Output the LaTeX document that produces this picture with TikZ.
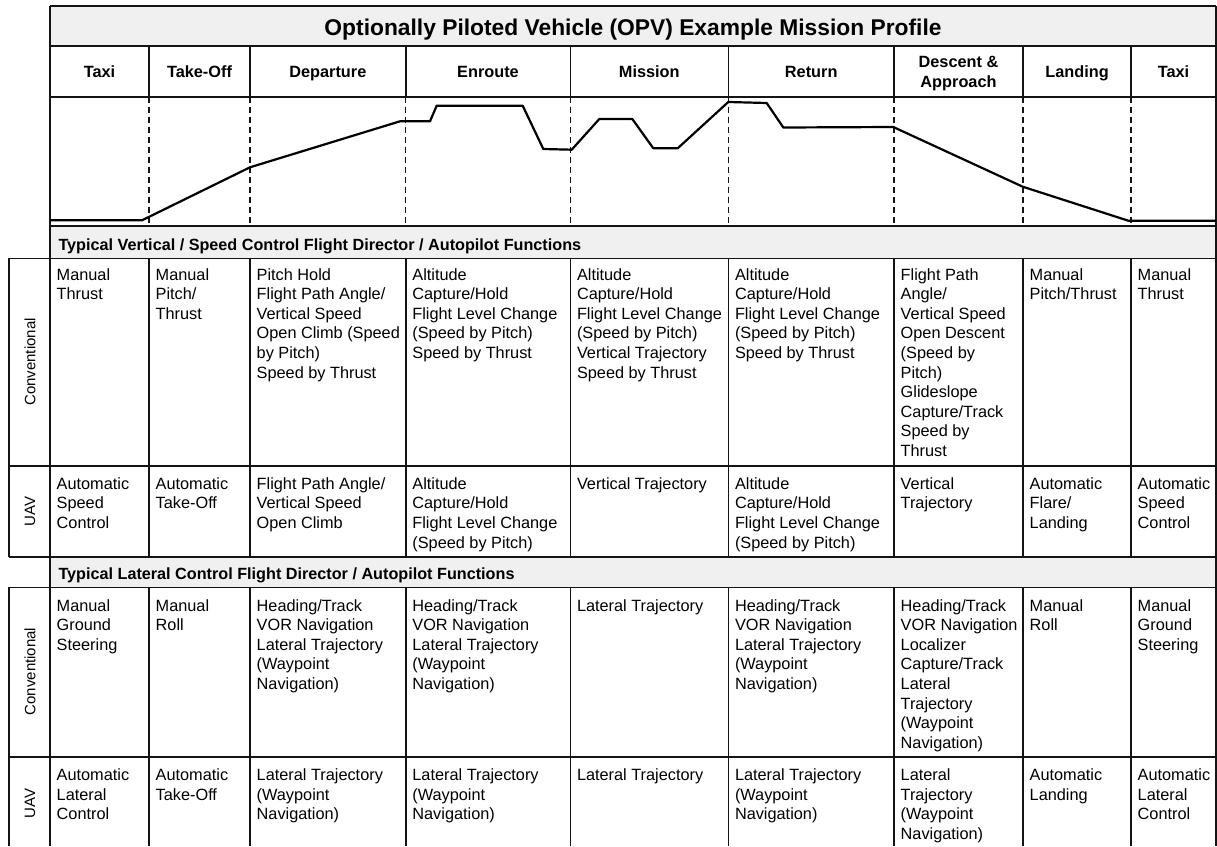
\documentclass[tikz,border=0pt]{standalone}
\usepackage{fontspec}
\setmainfont{Liberation Sans}
\definecolor{bandgray}{RGB}{240,240,240}
\definecolor{ink}{RGB}{20,20,20}
% stacked lines whose reference point is the baseline of the first line
\newcommand\stackl[1]{\vtop{\let\\\cr\halign{##\hfil\cr#1\crcr}}}
\newcommand\stackc[1]{\vtop{\let\\\cr\halign{\hfil##\hfil\cr#1\crcr}}}
\begin{document}
\begin{tikzpicture}[x=1pt,y=-1pt,
  gridline/.style={draw=ink,line width=1.6pt},
  dashline/.style={draw=ink,line width=1.3pt,dash pattern=on 6pt off 4pt},
  profile/.style={draw=black,line width=2.2pt,line join=round},
  band/.style={fill=bandgray},
  titletext/.style={anchor=base,inner sep=0pt,font=\fontsize{22.8}{26}\selectfont\bfseries},
  headcell/.style={anchor=base,inner sep=0pt,font=\fontsize{16.3}{19.6}\selectfont\bfseries},
  sechead/.style={anchor=base west,inner sep=0pt,font=\fontsize{16.2}{19}\selectfont\bfseries},
  cell/.style={anchor=base west,inner sep=0pt,font=\fontsize{16.3}{19.6}\selectfont},
  rowlab/.style={anchor=center,inner sep=0pt,rotate=90,font=\fontsize{15}{18}\selectfont}]
\useasboundingbox (0,0) rectangle (1217,846);

% grey bands: title and the two function headings
\path[band] (50,6) rectangle (1215.8,45.7);
\path[band] (50,225.7) rectangle (1215.8,258.3);
\path[band] (50,557) rectangle (1215.8,587.3);

% horizontal rules
\draw[gridline] (50,6) -- (1215.8,6);
\draw[gridline] (50,45.7) -- (1215.8,45.7);
\draw[gridline] (50,96.7) -- (1215.8,96.7);
\draw[gridline] (50,225.7) -- (1215.8,225.7);
\draw[gridline] (9,258.3) -- (1215.8,258.3);
\draw[gridline] (9,465.7) -- (1215.8,465.7);
\draw[gridline] (9,557) -- (1215.8,557);
\draw[gridline] (9,587.3) -- (1215.8,587.3);
\draw[gridline] (9,756.7) -- (1215.8,756.7);

% outer verticals
\draw[gridline] (50,6) -- (50,846);
\draw[gridline] (1215.8,6) -- (1215.8,846);
\draw[gridline] (9,258.3) -- (9,557);
\draw[gridline] (9,587.3) -- (9,846);

% phase column dividers: solid in the header, dashed in the profile, solid in the tables
\foreach \cx in {149,250,405.7,570.3,728.3,894,1023,1131} {
  \draw[gridline] (\cx,45.7) -- (\cx,96.7);
  \draw[dashline] (\cx,96.7) -- (\cx,225.7);
  \draw[gridline] (\cx,258.3) -- (\cx,557);
  \draw[gridline] (\cx,587.3) -- (\cx,846);
}

% altitude profile of the mission
\draw[profile] (50,220.3) -- (142,220.3) -- (250,167.3) -- (400,121.3) -- (430,121.3)
  -- (436.7,105.7) -- (522.7,105.7) -- (543.3,149) -- (571.7,149.7) -- (599.3,119)
  -- (632.3,119) -- (653.3,148.3) -- (677.7,148.3) -- (728.3,102) -- (766.7,103)
  -- (783.3,127.5) -- (893.3,127) -- (1022.7,186.7) -- (1128.3,220.7) -- (1215.8,220.7);

% title and phase headers
\node[titletext] (title) at (633,35) {Optionally Piloted Vehicle (OPV) Example Mission Profile};
\node[headcell] (h1) at (99.5,77.7) {Taxi};
\node[headcell] (h2) at (199.5,77.7) {Take-Off};
\node[headcell] (h3) at (327.85,77.7) {Departure};
\node[headcell] (h4) at (488,77.7) {Enroute};
\node[headcell] (h5) at (649.3,77.7) {Mission};
\node[headcell] (h6) at (811.2,77.7) {Return};
\node[headcell] (h7) at (958.5,67.7) {\stackc{Descent \&\\Approach}};
\node[headcell] (h8) at (1077,77.7) {Landing};
\node[headcell] (h9) at (1173.5,77.7) {Taxi};

% section headings
\node[sechead] (sv) at (58.3,250) {Typical Vertical / Speed Control Flight Director / Autopilot Functions};
\node[sechead] (sl) at (58.3,579) {Typical Lateral Control Flight Director / Autopilot Functions};

% row labels
\node[rowlab] (rl1) at (30,362) {Conventional};
\node[rowlab] (rl2) at (30,511.5) {UAV};
\node[rowlab] (rl3) at (30,671.5) {Conventional};
\node[rowlab] (rl4) at (30,803.8) {UAV};

% vertical / speed control, conventional
\node[cell] (vc1) at (56.5,280) {\stackl{Manual\\Thrust}};
\node[cell] (vc2) at (155.5,280) {\stackl{Manual\\Pitch/\\Thrust}};
\node[cell] (vc3) at (256.5,280) {\stackl{Pitch Hold\\Flight Path Angle/\\Vertical Speed\\Open Climb (Speed\\by Pitch)\\Speed by Thrust}};
\node[cell] (vc4) at (412.2,280) {\stackl{Altitude\\Capture/Hold\\Flight Level Change\\(Speed by Pitch)\\Speed by Thrust}};
\node[cell] (vc5) at (576.8,280) {\stackl{Altitude\\Capture/Hold\\Flight Level Change\\(Speed by Pitch)\\Vertical Trajectory\\Speed by Thrust}};
\node[cell] (vc6) at (734.8,280) {\stackl{Altitude\\Capture/Hold\\Flight Level Change\\(Speed by Pitch)\\Speed by Thrust}};
\node[cell] (vc7) at (900.5,280) {\stackl{Flight Path\\Angle/\\Vertical Speed\\Open Descent\\(Speed by\\Pitch)\\Glideslope\\Capture/Track\\Speed by\\Thrust}};
\node[cell] (vc8) at (1029.5,280) {\stackl{Manual\\Pitch/Thrust}};
\node[cell] (vc9) at (1137.5,280) {\stackl{Manual\\Thrust}};

% vertical / speed control, UAV
\node[cell] (vu1) at (56.5,489.3) {\stackl{Automatic\\Speed\\Control}};
\node[cell] (vu2) at (155.5,489.3) {\stackl{Automatic\\Take-Off}};
\node[cell] (vu3) at (256.5,489.3) {\stackl{Flight Path Angle/\\Vertical Speed\\Open Climb}};
\node[cell] (vu4) at (412.2,489.3) {\stackl{Altitude\\Capture/Hold\\Flight Level Change\\(Speed by Pitch)}};
\node[cell] (vu5) at (576.8,489.3) {\stackl{Vertical Trajectory}};
\node[cell] (vu6) at (734.8,489.3) {\stackl{Altitude\\Capture/Hold\\Flight Level Change\\(Speed by Pitch)}};
\node[cell] (vu7) at (900.5,489.3) {\stackl{Vertical\\Trajectory}};
\node[cell] (vu8) at (1029.5,489.3) {\stackl{Automatic\\Flare/\\Landing}};
\node[cell] (vu9) at (1137.5,489.3) {\stackl{Automatic\\Speed\\Control}};

% lateral control, conventional
\node[cell] (lc1) at (56.5,611) {\stackl{Manual\\Ground\\Steering}};
\node[cell] (lc2) at (155.5,611) {\stackl{Manual\\Roll}};
\node[cell] (lc3) at (256.5,611) {\stackl{Heading/Track\\VOR Navigation\\Lateral Trajectory\\(Waypoint\\Navigation)}};
\node[cell] (lc4) at (412.2,611) {\stackl{Heading/Track\\VOR Navigation\\Lateral Trajectory\\(Waypoint\\Navigation)}};
\node[cell] (lc5) at (576.8,611) {\stackl{Lateral Trajectory}};
\node[cell] (lc6) at (734.8,611) {\stackl{Heading/Track\\VOR Navigation\\Lateral Trajectory\\(Waypoint\\Navigation)}};
\node[cell] (lc7) at (900.5,611) {\stackl{Heading/Track\\VOR Navigation\\Localizer\\Capture/Track\\Lateral\\Trajectory\\(Waypoint\\Navigation)}};
\node[cell] (lc8) at (1029.5,611) {\stackl{Manual\\Roll}};
\node[cell] (lc9) at (1137.5,611) {\stackl{Manual\\Ground\\Steering}};

% lateral control, UAV
\node[cell] (lu1) at (56.5,780.7) {\stackl{Automatic\\Lateral\\Control}};
\node[cell] (lu2) at (155.5,780.7) {\stackl{Automatic\\Take-Off}};
\node[cell] (lu3) at (256.5,780.7) {\stackl{Lateral Trajectory\\(Waypoint\\Navigation)}};
\node[cell] (lu4) at (412.2,780.7) {\stackl{Lateral Trajectory\\(Waypoint\\Navigation)}};
\node[cell] (lu5) at (576.8,780.7) {\stackl{Lateral Trajectory}};
\node[cell] (lu6) at (734.8,780.7) {\stackl{Lateral Trajectory\\(Waypoint\\Navigation)}};
\node[cell] (lu7) at (900.5,780.7) {\stackl{Lateral\\Trajectory\\(Waypoint\\Navigation)}};
\node[cell] (lu8) at (1029.5,780.7) {\stackl{Automatic\\Landing}};
\node[cell] (lu9) at (1137.5,780.7) {\stackl{Automatic\\Lateral\\Control}};
\end{tikzpicture}
\end{document}
